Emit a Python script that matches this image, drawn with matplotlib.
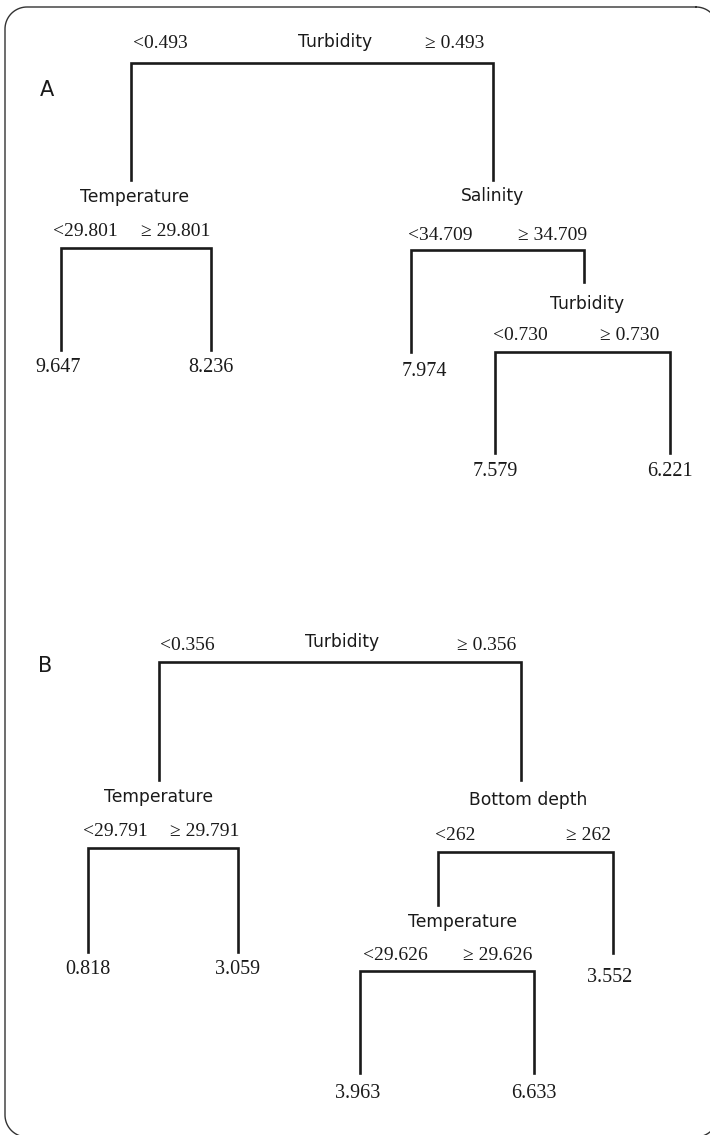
import numpy as np
import matplotlib.pyplot as plt

# tree A: split variables, cut points, leaf means
a_vars = ["Turbidity", "Temperature", "Salinity", "Turbidity"]
a_cuts = ["0.493", "29.801", "34.709", "0.730"]
a_leaves = ["9.647", "8.236", "7.974", "7.579", "6.221"]

# tree B
b_vars = ["Turbidity", "Temperature", "Bottom depth", "Temperature"]
b_cuts = ["0.356", "29.791", "262", "29.626"]
b_leaves = ["0.818", "3.059", "3.552", "3.963", "6.633"]

# layout (pixel units of the page): one row per split
# xl, xr, ybar, yl_end, yr_end, var_xy, lo_xy, hi_xy
a_layout = [
    (131, 493, 63, 180, 180, (335, 42), (160, 44), (455, 44)),
    (61, 211, 248, 350, 350, (134, 197), (85, 231), (176, 231)),
    (411, 584, 250, 352, 282, (493, 196), (440, 235), (553, 235)),
    (495, 670, 352, 453, 453, (587, 304), (520, 335), (630, 335)),
]
a_leaf_xy = [(58, 367), (211, 367), (424, 372), (495, 472), (670, 472)]

b_layout = [
    (159, 521, 662, 780, 780, (342, 642), (187, 645), (487, 645)),
    (88, 238, 848, 952, 952, (159, 797), (115, 832), (205, 832)),
    (438, 613, 852, 905, 953, (528, 800), (455, 836), (589, 836)),
    (360, 534, 971, 1073, 1073, (462, 922), (395, 956), (498, 956)),
]
b_leaf_xy = [(88, 969), (238, 969), (610, 978), (358, 1094), (534, 1094)]

sans = "DejaVu Sans"
serif = "Liberation Serif"
ink = "#1a1a1a"

fig = plt.figure(figsize=(7.1, 11.35), dpi=100)
ax = fig.add_axes([0, 0, 1, 1])
ax.set_xlim(0, 710)
ax.set_ylim(1135, 0)
ax.axis("off")

# rounded page frame, runs off the right and bottom edge like the scan
left, right, top, bottom, r = 5, 718, 7, 1137, 22
fx, fy = [], []
for cx, cy, a0 in [(right - r, top + r, 270), (right - r, bottom - r, 0),
                   (left + r, bottom - r, 90), (left + r, top + r, 180)]:
    t = np.radians(np.linspace(a0, a0 + 90, 20))
    fx += list(cx + r * np.cos(t))
    fy += list(cy + r * np.sin(t))
fx.append(fx[0])
fy.append(fy[0])
ax.plot(fx, fy, color="#333333", lw=1.0)


def draw_tree(vars_, cuts, leaves, layout, leaf_xy, tag, tag_xy):
    for v, c, (xl, xr, yb, yle, yre, vxy, lxy, hxy) in zip(vars_, cuts, layout):
        ax.plot([xl, xl, xr, xr], [yle, yb, yb, yre], color=ink, lw=1.9,
                solid_joinstyle="miter")
        ax.text(*vxy, v, family=sans, fontsize=12.3, ha="center", va="center", color=ink)
        ax.text(*lxy, "<" + c, family=serif, fontsize=14, ha="center", va="center", color=ink)
        ax.text(*hxy, "\u2265 " + c, family=serif, fontsize=14, ha="center", va="center", color=ink)
    for val, (x, y) in zip(leaves, leaf_xy):
        ax.text(x, y, val, family=serif, fontsize=14.5, ha="center", va="center", color=ink)
    ax.text(*tag_xy, tag, family=sans, fontsize=15, ha="center", va="center", color=ink)


draw_tree(a_vars, a_cuts, a_leaves, a_layout, a_leaf_xy, "A", (47, 90))
draw_tree(b_vars, b_cuts, b_leaves, b_layout, b_leaf_xy, "B", (45, 666))

fig.savefig("out.png", dpi=100, facecolor="white")
